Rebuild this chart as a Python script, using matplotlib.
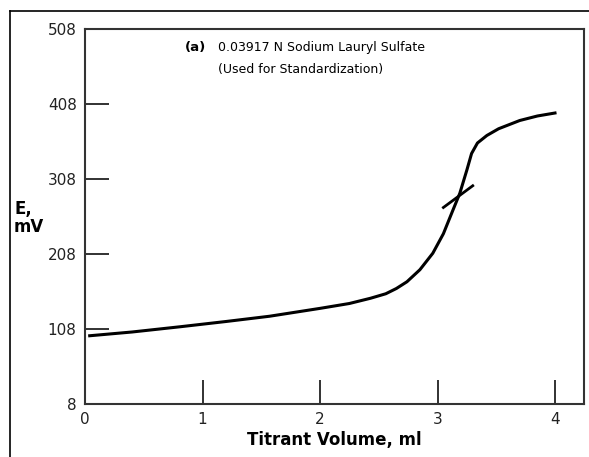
import matplotlib
matplotlib.use('Agg')
import matplotlib.pyplot as plt
from matplotlib.lines import Line2D

# titration curve
volume = [0.04, 0.4, 0.81, 1.2, 1.57, 2.0, 2.25, 2.43, 2.56, 2.65, 2.74, 2.85, 2.96,
          3.05, 3.13, 3.19, 3.25, 3.29, 3.34, 3.42, 3.52, 3.7, 3.85, 4.0]
potential = [99, 104, 111, 118, 125, 135.5, 142, 149, 155, 162, 171, 187, 209,
             235, 266, 289, 320, 342, 356, 366, 375, 386, 392, 396]

# tangent line drawn through the inflection point
tangent_x = [3.05, 3.30]
tangent_y = [270, 299]

xticks = [0, 1, 2, 3, 4]
yticks = [8, 108, 208, 308, 408, 508]

fig = plt.figure(figsize=(5.89, 4.57), dpi=100)
ax = fig.add_axes([85/589, 1-404/457, 499/589, 375/457])

ax.plot(volume, potential, color='black', lw=2.2, solid_joinstyle='round')
ax.plot(tangent_x, tangent_y, color='black', lw=2.0)

ax.set_xlim(0, 499/117.5)
ax.set_ylim(8, 508)
ax.set_xticks(xticks)
ax.set_yticks(yticks)
ax.tick_params(direction='in', length=17, width=1.3, color='#222222',
               labelsize=11, labelcolor='#222222')
ax.tick_params(axis='y', pad=6)
ax.tick_params(axis='x', pad=6)
for s in ax.spines.values():
    s.set_linewidth(1.5)
    s.set_color('#333333')
ax.yaxis.get_major_ticks()[1].tick1line.set_color('#888888')

ax.set_xlabel('Titrant Volume, ml', fontsize=12, fontweight='bold', labelpad=3)
fig.text(14/589, 1-218/457, 'E,\nmV', fontsize=12, fontweight='bold',
         ha='left', va='center', linespacing=1.05)

fig.text(185/589, 1-47/457, '(a)', fontsize=9.5, fontweight='bold', va='center')
fig.text(218/589, 1-47/457, '0.03917 N Sodium Lauryl Sulfate', fontsize=9, va='center')
fig.text(218/589, 1-70/457, '(Used for Standardization)', fontsize=9, va='center')

# outer frame
fig.add_artist(Line2D([9.5/589, 9.5/589], [0, 1-10.5/457], color='black', lw=1.2))
fig.add_artist(Line2D([9.5/589, 1], [1-10.5/457, 1-10.5/457], color='black', lw=1.2))

fig.savefig('out.png', dpi=100)
